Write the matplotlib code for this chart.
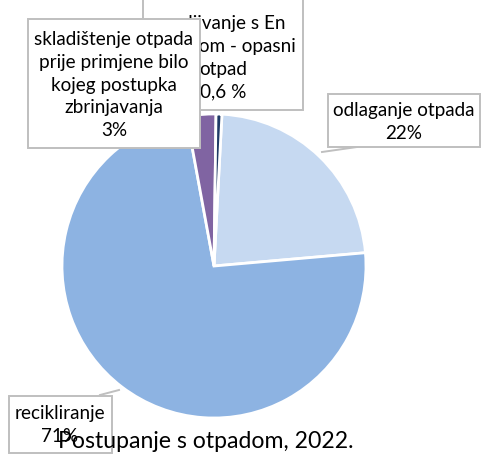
import matplotlib.pyplot as plt
from matplotlib.patches import Rectangle

plt.rcParams['font.family'] = ['Lato', 'DejaVu Sans']

categories = ['odlaganje otpada', 'recikliranje',
              'skladištenje otpada prije primjene bilo kojeg postupka zbrinjavanja',
              'spaljivanje s En otpadom - opasni otpad']
values = [22, 71, 3, 0.6]
colors = ['#C6D9F1', '#8DB3E2', '#8064A2', '#1F3A66']
explode = [0.03, 0.02, 0.012, 0.0]

W, H = 483, 461


def py(y):
    # pixel row (from top) -> data y
    return H - y


fig = plt.figure(figsize=(4.83, 4.61), dpi=100)
ax = fig.add_axes([0, 0, 1, 1])
ax.set_xlim(0, W)
ax.set_ylim(0, H)
ax.set_aspect('equal')
ax.axis('off')

ax.pie(values, colors=colors, explode=explode, startangle=87, counterclock=False,
       center=(214, py(266)), radius=152,
       wedgeprops=dict(edgecolor='white', linewidth=2))
ax.set_xlim(0, W)
ax.set_ylim(0, H)

box_ec = '#BFBFBF'
txt_c = '#000000'
fs = 13.6
ls = 1.42


def label_box(x0, y0, x1, y1, z):
    ax.add_patch(Rectangle((x0, py(y1)), x1 - x0, y1 - y0, facecolor='white',
                           edgecolor=box_ec, linewidth=1.4, zorder=z))


# opasni otpad label (top cut off, partly hidden)
label_box(143, -40, 303, 110, 3)
ax.text(223, py(58), 'spaljivanje s En\notpadom - opasni\notpad\n0,6 %', ha='center',
        va='center', fontsize=fs, linespacing=ls, color=txt_c, zorder=4)

# skladistenje label
label_box(28, 19, 200, 148, 5)
ax.text(114, py(85), 'skladištenje otpada\nprije primjene bilo\nkojeg postupka\nzbrinjavanja\n3%',
        ha='center', va='center', fontsize=fs, linespacing=ls, color=txt_c, zorder=6)

# odlaganje label
ax.plot([322, 357], [py(152), py(147)], color=box_ec, lw=1.4, zorder=2)
label_box(328, 94, 480, 147, 5)
ax.text(404, py(122), 'odlaganje otpada\n22%', ha='center', va='center',
        fontsize=fs, linespacing=ls, color=txt_c, zorder=6)

# recikliranje label
ax.plot([100, 119], [py(395), py(390)], color=box_ec, lw=1.4, zorder=2)
label_box(9, 396, 112, 453, 5)
ax.text(60, py(425), 'recikliranje\n71%', ha='center', va='center',
        fontsize=fs, linespacing=ls, color=txt_c, zorder=6)

# chart title
ax.text(206, py(441), 'Postupanje s otpadom, 2022.', ha='center', va='center',
        fontsize=16.6, color='#000000', zorder=7)

fig.savefig('out.png', dpi=100)
